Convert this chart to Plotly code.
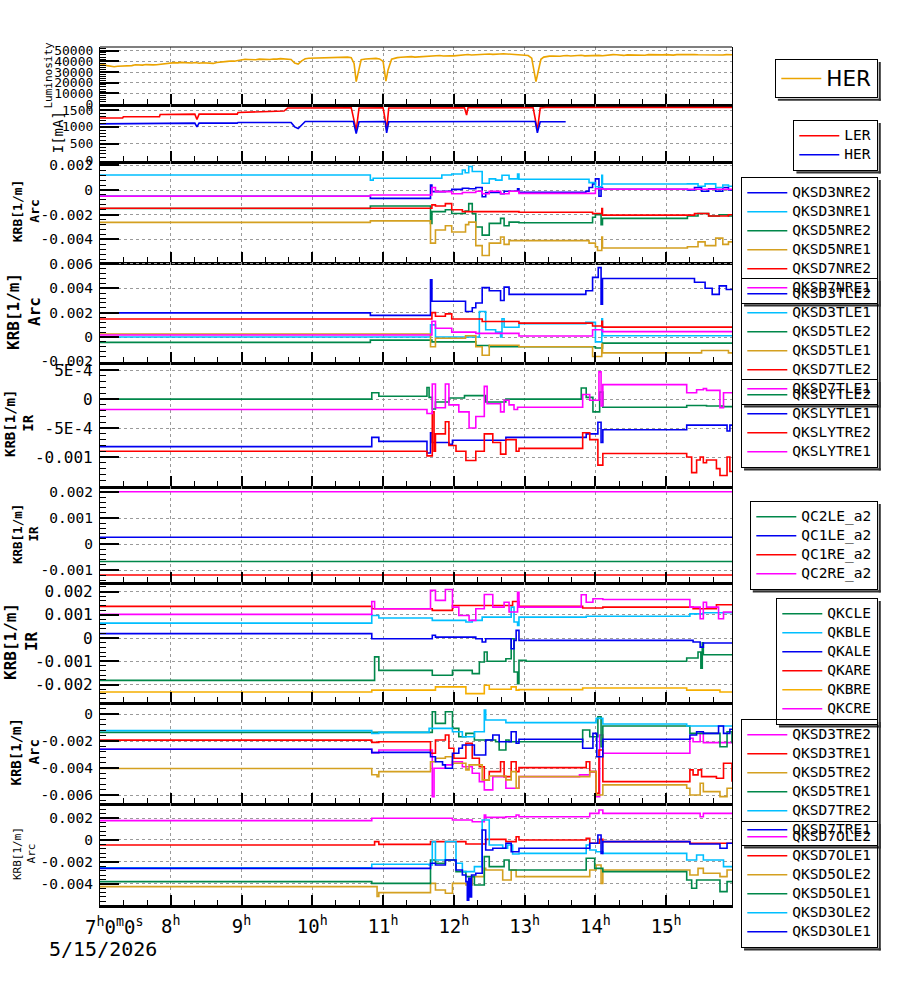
import plotly.graph_objects as go

# ---------------- DATA (time in hours of 5/15/2026, value) ----------------
HOUR_TICKS = [7, 8, 9, 10, 11, 12, 13, 14, 15]
HOUR_LABELS = ["", "8<sup>h</sup>", "9<sup>h</sup>", "10<sup>h</sup>", "11<sup>h</sup>",
               "12<sup>h</sup>", "13<sup>h</sup>", "14<sup>h</sup>", "15<sup>h</sup>"]
FIRST_LABEL = "7<sup>h</sup>0<sup>m</sup>0<sup>s</sup>"
DATE_LABEL = "5/15/2026"

LUM_HER = [(7.0, 36500), (7.05, 36900), (7.1, 36000), (7.15, 35600), (7.2, 35000), (7.25, 35400),
           (7.3, 35500), (7.35, 36100), (7.4, 36200), (7.45, 36000), (7.5, 36800), (7.55, 36400),
           (7.6, 36500), (7.65, 37000), (7.7, 37200), (7.75, 36700), (7.8, 36800), (7.85, 37300),
           (7.9, 37500), (7.95, 38200), (8.0, 39000), (8.05, 38800), (8.1, 38600), (8.15, 39100),
           (8.2, 38800), (8.25, 38400), (8.3, 38500), (8.35, 38900), (8.4, 38300), (8.45, 38700),
           (8.5, 38400), (8.55, 38000), (8.6, 38100), (8.65, 38900), (8.7, 39500), (8.75, 39900),
           (8.8, 40000), (8.85, 40400), (8.9, 40200), (8.95, 40800), (9.0, 41600), (9.05, 42000),
           (9.1, 41800), (9.15, 41300), (9.2, 41500), (9.25, 42100), (9.3, 41900), (9.35, 41500),
           (9.4, 41700), (9.45, 42300), (9.5, 42100), (9.55, 42600), (9.6, 42400), (9.65, 42000),
           (9.7, 41800), (9.75, 38500), (9.8, 37500), (9.85, 40500), (9.9, 42500), (9.95, 42900),
           (10.0, 43000), (10.05, 43300), (10.1, 43500), (10.15, 43000), (10.2, 43200), (10.25, 43700),
           (10.3, 43800), (10.35, 43300), (10.4, 43600), (10.45, 44100), (10.5, 44000), (10.55, 43500),
           (10.59, 38000), (10.62, 21000), (10.65, 30000), (10.69, 41500), (10.75, 42200), (10.8, 42500),
           (10.85, 42100), (10.9, 42800), (10.95, 42300), (11.0, 40000), (11.04, 21500), (11.07, 32000),
           (11.12, 42000), (11.16, 43100), (11.2, 43500), (11.25, 43900), (11.3, 44000), (11.35, 44600),
           (11.4, 44500), (11.45, 44000), (11.5, 44200), (11.55, 44700), (11.6, 44800), (11.65, 45300),
           (11.7, 45000), (11.75, 45400), (11.8, 45500), (11.85, 45000), (11.9, 44800), (11.95, 45300),
           (12.0, 45200), (12.05, 45700), (12.1, 46000), (12.15, 46400), (12.2, 46500), (12.25, 46000),
           (12.3, 46200), (12.35, 46700), (12.4, 46800), (12.45, 47300), (12.5, 47000), (12.55, 46600),
           (12.6, 46500), (12.65, 47000), (12.7, 47200), (12.75, 46900), (12.8, 46800), (12.85, 46500),
           (12.9, 46300), (12.95, 46000), (13.0, 45800), (13.05, 45500), (13.1, 43000), (13.16, 21000),
           (13.19, 30000), (13.23, 42000), (13.27, 44000), (13.3, 44500), (13.35, 44900), (13.4, 45000),
           (13.45, 44600), (13.5, 44800), (13.55, 45300), (13.6, 45500), (13.65, 45000), (13.7, 45200),
           (13.75, 45600), (13.8, 45800), (13.85, 45200), (13.9, 45400), (13.95, 45900), (14.0, 46000),
           (14.05, 45600), (14.1, 45300), (14.15, 45700), (14.2, 45800), (14.25, 46300), (14.3, 46200),
           (14.35, 45800), (14.4, 45600), (14.45, 46100), (14.5, 46000), (14.55, 46500), (14.6, 46400),
           (14.65, 46000), (14.7, 45800), (14.75, 46300), (14.8, 46100), (14.85, 45800), (14.9, 45700),
           (14.95, 46100), (15.0, 46300), (15.05, 46000), (15.1, 45900), (15.15, 46300), (15.2, 46400),
           (15.25, 46000), (15.3, 46000), (15.35, 46400), (15.4, 46500), (15.45, 46200), (15.5, 46100),
           (15.55, 45900), (15.6, 45800), (15.65, 46200), (15.7, 46300), (15.75, 45900), (15.8, 46000),
           (15.85, 46300), (15.93, 46200)]

CUR_LER = [(7.0, 1265), (7.32, 1265), (7.33, 1300), (7.84, 1300), (7.85, 1370), (8.34, 1380), (8.37, 1220),
           (8.40, 1380), (8.94, 1380), (8.95, 1430), (9.6, 1470), (9.65, 1560), (10.55, 1570), (10.58, 1300),
           (10.62, 900), (10.66, 1560), (11.0, 1570), (11.03, 1200), (11.05, 900), (11.08, 1560), (12.15, 1570),
           (12.18, 1350), (12.2, 1570), (13.12, 1570), (13.15, 1200), (13.18, 900), (13.22, 1560),
           (13.3, 1575), (15.93, 1575)]
CUR_HER = [(7.0, 1090), (7.32, 1090), (7.33, 1110), (8.34, 1110), (8.37, 1000), (8.40, 1110), (8.94, 1110),
           (8.95, 1130), (9.70, 1130), (9.75, 1000), (9.80, 950), (9.85, 1050), (9.9, 1160), (10.58, 1160),
           (10.62, 800), (10.66, 1150), (11.03, 1160), (11.05, 820), (11.08, 1150), (13.15, 1160),
           (13.18, 820), (13.22, 1150), (13.58, 1150)]

# Arc NRE
QKSD3NRE2 = [(7.0, -0.0005), (10.82, -0.00068), (11.67, 0.0004), (11.69, -0.00013), (11.88, -0.0001),
             (11.97, 0.00005), (12.12, 0.00014), (12.21, 0.0001), (12.31, 0.0002), (12.40, -0.00054),
             (12.45, -0.0002), (12.66, -0.0003), (12.71, -0.0001), (12.90, 0.0001), (12.92, -0.00019),
             (13.865, -0.0001), (13.91, 0.0002), (13.96, 0.0005), (14.0, 0.0009), (14.05, -0.0005),
             (14.08, 0.0002), (14.10, 0.00006), (15.30, 0.0), (15.40, 0.0002), (15.50, -0.0001),
             (15.60, 0.0001), (15.70, -0.0001), (15.80, 0.0002), (15.88, 0.0), (15.93, 0.0)]
QKSD3NRE1 = [(7.0, 0.00121), (10.82, 0.0008), (10.86, 0.00095), (11.83, 0.00121), (11.97, 0.0013),
             (12.12, 0.00162), (12.16, 0.0014), (12.21, 0.0019), (12.26, 0.0015), (12.40, 0.00055),
             (12.50, 0.0009), (12.59, 0.0008), (12.68, 0.0012), (12.78, 0.0009), (12.90, 0.0013),
             (12.92, 0.00087), (13.91, 0.0006), (14.0, 0.00027), (14.09, 0.0012), (14.10, 0.00049),
             (15.30, 0.0005), (15.45, 0.0003), (15.55, 0.0005), (15.70, 0.0002), (15.80, 0.0004),
             (15.88, 0.0003), (15.93, 0.0003)]
QKSD5NRE2 = [(7.0, -0.0015), (10.82, -0.0013), (11.67, -0.0027), (11.69, -0.00175), (11.88, -0.0016),
             (11.97, -0.0019), (12.16, -0.0017), (12.21, -0.0011), (12.26, -0.0019), (12.31, -0.003),
             (12.40, -0.00365), (12.50, -0.0027), (12.66, -0.0023), (12.71, -0.0029), (12.78, -0.0026),
             (12.92, -0.00265), (13.96, -0.0022), (14.0, -0.002), (14.08, -0.0028), (14.10, -0.0023),
             (15.30, -0.0021), (15.45, -0.0019), (15.60, -0.0021), (15.75, -0.002), (15.88, -0.0021),
             (15.93, -0.0021)]
QKSD5NRE1 = [(7.0, -0.00262), (10.82, -0.0025), (11.67, -0.0043), (11.74, -0.00324), (11.88, -0.0029),
             (11.97, -0.0034), (12.165, -0.0028), (12.21, -0.0026), (12.31, -0.0045), (12.40, -0.0053),
             (12.50, -0.0043), (12.66, -0.0038), (12.71, -0.0044), (12.78, -0.0041), (13.91, -0.0043),
             (14.0, -0.0046), (14.03, -0.0049), (14.09, -0.0038), (14.10, -0.0047), (15.30, -0.0046),
             (15.45, -0.0042), (15.55, -0.0045), (15.70, -0.0039), (15.80, -0.0044), (15.88, -0.0042),
             (15.93, -0.0042)]
QKSD7NRE2 = [(7.0, -0.00148), (11.69, -0.0012), (11.74, -0.0013), (11.88, -0.0011), (11.97, -0.0016),
             (12.12, -0.00175), (12.92, -0.0018), (13.96, -0.0019), (14.09, -0.0015), (14.10, -0.00203),
             (15.40, -0.0019), (15.60, -0.0021), (15.88, -0.002), (15.93, -0.002)]
QKSD7NRE1 = [(7.0, -0.00051), (10.82, -0.0004), (11.69, 0.0002), (11.74, -0.00013), (11.97, -0.0003),
             (12.12, -0.0002), (12.31, -0.0001), (12.40, -0.0003), (12.50, -0.0001), (12.66, -0.0003),
             (12.78, -0.0001), (12.92, -0.00027), (14.0, 0.0001), (14.10, 0.00006), (15.93, 0.00006)]

# Arc TLE
QKSD3TLE2 = [(7.0, 0.00198), (10.82, 0.00178), (11.67, 0.0047), (11.69, 0.00294), (12.165, 0.0021),
             (12.26, 0.0024), (12.31, 0.0028), (12.40, 0.00406), (12.50, 0.0038), (12.66, 0.003),
             (12.71, 0.0041), (12.78, 0.0035), (13.865, 0.0038), (13.96, 0.0049), (14.04, 0.0057),
             (14.08, 0.0027), (14.10, 0.0048), (15.40, 0.0045), (15.55, 0.004), (15.65, 0.0035),
             (15.75, 0.0042), (15.85, 0.0039), (15.93, 0.0039)]
QKSD3TLE1 = [(7.0, 0.0), (11.67, 0.001), (11.74, 0.0), (12.36, 0.0021), (12.45, 0.0006), (12.59, 0.0004),
             (12.66, 0.0), (12.68, 0.0015), (12.71, 0.0008), (12.92, 0.0011), (13.865, 0.0012),
             (14.0, -0.0004), (14.09, 0.0015), (14.10, 0.0001), (15.93, 0.0001)]
QKSD5TLE2 = [(7.0, -0.00044), (10.82, -0.00025), (11.69, -0.0004), (12.31, -0.0007), (12.50, -0.0008),
             (14.0, -0.0009), (14.10, -0.0005), (15.93, -0.0005)]
QKSD5TLE1 = [(7.0, 0.00025), (11.67, -0.0008), (11.74, -0.0001), (12.165, 0.0001), (12.31, -0.0008),
             (12.40, -0.0015), (12.50, -0.00067), (12.92, -0.0008), (13.96, -0.0016), (14.09, -0.0006),
             (14.10, -0.0013), (15.5, -0.0011), (15.88, -0.0013), (15.93, -0.0013)]
QKSD7TLE2 = [(7.0, 0.00148), (11.69, 0.002), (11.74, 0.0017), (11.88, 0.0019), (11.97, 0.00148),
             (12.40, 0.00128), (12.92, 0.00114), (13.96, 0.0009), (14.09, 0.0013), (14.10, 0.00081),
             (15.93, 0.00081)]
QKSD7TLE1 = [(7.0, 0.00017), (11.69, 0.0013), (11.74, 0.00072), (11.97, 0.0004), (12.31, 0.0003),
             (12.92, 0.00008), (13.96, 0.0006), (14.10, 0.00044), (15.93, 0.00044)]

# IR QKSLY
QKSLYTLE2 = [(7.0, 0.0), (10.84, 0.00011), (10.94, 0.00005), (11.62, 0.0002), (11.65, 0.00003),
             (11.695, -0.00017), (11.74, -0.00005), (11.93, 0.00002), (12.15, 0.00006), (12.45, -0.00005),
             (12.735, 0.0), (13.80, 0.00019), (13.87, 0.00003), (13.965, -0.00022), (14.06, 0.00012),
             (14.105, -0.00014), (15.29, -0.00011), (15.57, -0.00012), (15.81, -0.00013), (15.93, -0.00013)]
QKSLYTLE1 = [(7.0, -0.00082), (10.84, -0.00066), (10.94, -0.00073), (11.62, -0.00093), (11.67, -0.00058),
             (11.695, -0.00075), (11.93, -0.00078), (11.98, -0.00071), (12.735, -0.00066), (13.87, -0.0006),
             (14.035, -0.0004), (14.08, -0.00075), (14.105, -0.00053), (15.29, -0.00045), (15.86, -0.00055),
             (15.90, -0.00045), (15.93, -0.00045)]
QKSLYTRE2 = [(7.0, -0.0009), (11.62, -0.00098), (11.695, -0.00022), (11.72, -0.0009), (11.74, -0.0006),
             (11.88, -0.00039), (11.93, -0.0008), (12.03, -0.0009), (12.17, -0.00106), (12.31, -0.0009),
             (12.43, -0.0006), (12.55, -0.00075), (12.66, -0.00095), (12.735, -0.0007), (12.88, -0.0009),
             (12.92, -0.00085), (13.82, -0.00058), (13.92, -0.0007), (14.035, -0.00114), (14.105, -0.00094),
             (15.29, -0.001), (15.36, -0.00127), (15.43, -0.00105), (15.48, -0.001), (15.525, -0.0011),
             (15.57, -0.00105), (15.71, -0.0012), (15.76, -0.00132), (15.86, -0.001), (15.90, -0.00125),
             (15.93, -0.00125)]
QKSLYTRE1 = [(7.0, -0.00018), (11.62, -0.00025), (11.695, 0.00026), (11.74, -0.00015), (11.88, 0.00026),
             (11.93, -0.0001), (12.07, -0.00022), (12.215, -0.0005), (12.31, -0.0003), (12.43, 0.00022),
             (12.47, -0.00008), (12.66, -0.00022), (12.71, -0.00002), (12.78, -0.0001), (12.85, -0.00018),
             (12.90, -0.00014), (13.82, 0.00008), (13.92, -0.00002), (14.05, 0.00047), (14.08, -0.00012),
             (14.105, 0.00025), (15.29, 0.00011), (15.43, 0.00016), (15.525, 0.00018), (15.57, 0.00015),
             (15.76, -0.00015), (15.81, 0.00011), (15.93, 0.00011)]

# IR QC (flat)
QC2LE_A2 = [(7.0, -0.00067), (15.93, -0.00067)]
QC1LE_A2 = [(7.0, 0.00026), (15.93, 0.00026)]
QC1RE_A2 = [(7.0, -0.00119), (15.93, -0.00119)]
QC2RE_A2 = [(7.0, 0.00201), (15.93, 0.00201)]

# IR QK
QKCLE = [(7.0, -0.00182), (10.88, -0.00081), (10.94, -0.00139), (11.695, -0.0016), (11.98, -0.00139),
         (12.26, -0.00153), (12.36, -0.00103), (12.43, -0.0006), (12.47, -0.001), (12.735, -0.00089),
         (12.81, -0.00003), (12.85, -0.00146), (12.90, -0.00196), (12.92, -0.00096), (13.02, -0.001),
         (15.29, -0.00086), (15.45, -0.0006), (15.49, -0.0013), (15.51, -0.0002), (15.525, -0.00072),
         (15.93, -0.00072)]
QKBLE = [(7.0, 0.00064), (10.84, 0.00097), (10.94, 0.00086), (11.695, 0.00076), (12.17, 0.00069),
         (12.26, 0.00076), (12.40, 0.0009), (12.81, 0.00133), (12.85, 0.00069), (12.90, 0.00054),
         (12.92, 0.0009), (13.87, 0.00094), (15.335, 0.00104), (15.525, 0.00109), (15.93, 0.00109)]
QKALE = [(7.0, 0.00019), (10.84, -0.00003), (11.695, 0.00012), (11.74, 0.00004), (12.31, -0.00003),
         (12.40, -0.00017), (12.45, -0.00003), (12.81, -0.00046), (12.85, -0.0001), (12.88, 0.00033),
         (12.92, -0.0001), (15.38, -0.00017), (15.48, -0.00039), (15.525, -0.00021), (15.93, -0.00021)]
QKARE = [(7.0, 0.00136), (10.84, 0.00126), (11.695, 0.00119), (11.98, 0.0014), (12.83, 0.00157),
         (12.92, 0.00136), (13.82, 0.00129), (14.105, 0.00133), (15.38, 0.00126), (15.71, 0.00143),
         (15.93, 0.00143)]
QKBRE = [(7.0, -0.00232), (10.84, -0.00224), (11.74, -0.0021), (12.17, -0.00239), (12.43, -0.00203),
         (12.50, -0.0022), (12.81, -0.0021), (12.88, -0.00224), (12.92, -0.00222), (13.82, -0.00215),
         (15.29, -0.00224), (15.76, -0.00232), (15.93, -0.00232)]
QKCRE = [(7.0, 0.00102), (10.84, 0.00157), (10.88, 0.00126), (11.67, 0.00205), (11.74, 0.00162),
         (11.88, 0.00209), (11.98, 0.00133), (12.07, 0.00097), (12.215, 0.00076), (12.31, 0.00126),
         (12.43, 0.00187), (12.55, 0.00133), (12.71, 0.00154), (12.78, 0.00112), (12.90, 0.00197),
         (12.92, 0.00133), (13.80, 0.00186), (13.87, 0.00154), (13.965, 0.00169), (14.105, 0.00166),
         (15.335, 0.00133), (15.48, 0.00083), (15.525, 0.00154), (15.57, 0.00133), (15.74, 0.00083),
         (15.81, 0.00112), (15.93, 0.00112)]

# Arc TRE
QKSD3TRE2 = [(7.0, -0.00261), (10.84, -0.00286), (10.94, -0.00266), (11.695, -0.00612), (11.72, -0.00402),
             (11.88, -0.00377), (11.98, -0.00353), (12.12, -0.0039), (12.26, -0.00439), (12.36, -0.00501),
             (12.43, -0.00562), (12.55, -0.00464), (12.735, -0.0055), (12.92, -0.00464), (13.775, -0.00451),
             (13.92, -0.00427), (14.01, -0.00612), (14.06, -0.00155), (14.105, -0.00291), (15.335, -0.0018),
             (15.38, -0.00205), (15.48, -0.00143), (15.525, -0.00212), (15.93, -0.00217)]
QKSD3TRE1 = [(7.0, -0.00193), (10.84, -0.0021), (10.94, -0.00205), (11.67, -0.0029), (11.74, -0.00192),
             (11.88, -0.00155), (11.93, -0.00254), (12.0, -0.00328), (12.17, -0.00217), (12.26, -0.00328),
             (12.36, -0.0039), (12.43, -0.00488), (12.50, -0.00427), (12.66, -0.00353), (12.71, -0.00464),
             (12.81, -0.00353), (12.88, -0.00427), (12.92, -0.00397), (13.87, -0.00353), (13.92, -0.00427),
             (14.01, -0.00587), (14.05, -0.00266), (14.105, -0.00501), (15.335, -0.00414), (15.38, -0.00451),
             (15.45, -0.00414), (15.50, -0.00464), (15.71, -0.00476), (15.81, -0.00365), (15.93, -0.00501)]
QKSD5TRE2 = [(7.0, -0.00403), (10.84, -0.0045), (10.915, -0.00464), (10.94, -0.00427), (11.67, -0.00353),
             (11.74, -0.00328), (11.88, -0.00316), (11.98, -0.00365), (12.17, -0.00414), (12.215, -0.00377),
             (12.40, -0.00488), (12.50, -0.00459), (12.735, -0.00488), (12.81, -0.00427), (12.88, -0.0055),
             (12.92, -0.00464), (13.92, -0.00427), (14.01, -0.006), (14.105, -0.00525), (15.29, -0.0055),
             (15.335, -0.006), (15.48, -0.00513), (15.525, -0.00575), (15.76, -0.00612), (15.86, -0.0055),
             (15.93, -0.0055)]
QKSD5TRE1 = [(7.0, -0.00136), (11.695, 0.00017), (11.74, -0.00069), (11.88, 0.00017), (11.98, -0.00106),
             (12.07, -0.00168), (12.17, -0.00143), (12.29, -0.00192), (12.59, -0.00205), (12.64, -0.00266),
             (12.735, -0.00192), (12.78, -0.00205), (13.82, -0.00118), (13.92, -0.00168), (14.035, -0.0002),
             (14.08, -0.00242), (14.105, -0.00089), (15.335, -0.00143), (15.76, -0.00242), (15.86, -0.00131),
             (15.93, -0.00217)]
QKSD7TRE2 = [(7.0, -0.00123), (10.84, -0.00143), (10.94, -0.00136), (11.65, -0.00106), (11.98, -0.00131),
             (12.12, -0.00168), (12.29, -0.00131), (12.43, 0.0003), (12.45, -0.00044), (12.735, -0.00064),
             (14.01, -0.00032), (14.105, -0.00074), (15.29, -0.00089), (15.93, -0.00089)]
QKSD7TRE1 = [(7.0, -0.00261), (10.84, -0.00286), (10.94, -0.00284), (11.67, -0.00316), (11.74, -0.00353),
             (11.84, -0.00377), (11.88, -0.00402), (11.98, -0.00291), (12.07, -0.00254), (12.12, -0.00229),
             (12.29, -0.00303), (12.45, -0.00192), (12.55, -0.00155), (12.64, -0.00205), (12.81, -0.00131),
             (12.88, -0.00217), (12.92, -0.00187), (13.82, -0.00254), (13.965, -0.00143), (14.02, -0.00316),
             (14.105, -0.00187), (15.335, -0.00155), (15.43, -0.00131), (15.525, -0.00143), (15.74, -0.00089),
             (15.81, -0.00143), (15.90, -0.00113), (15.93, -0.00113)]

# Arc OLE
QKSD7OLE2 = [(7.0, 0.00177), (10.84, 0.00198), (11.98, 0.00183), (12.26, 0.00167), (12.43, 0.00228),
             (12.45, 0.00207), (12.735, 0.00213), (12.88, 0.00228), (12.92, 0.00213), (13.92, 0.00243),
             (14.05, 0.00274), (14.105, 0.00243), (15.48, 0.00213), (15.525, 0.00243), (15.93, 0.00243)]
QKSD7OLE1 = [(7.0, -0.00046), (10.88, -0.00015), (10.94, -0.0004), (11.67, -0.00015), (12.17, -0.00037),
             (12.45, 0.00006), (12.735, -0.00015), (12.88, 0.0003), (12.92, 0.0), (13.87, 0.00015),
             (13.92, -0.0003), (14.06, 0.00006), (14.105, -0.00015), (15.335, -0.0003), (15.93, -0.0003)]
QKSD5OLE2 = [(7.0, -0.00426), (10.915, -0.00517), (10.94, -0.00481), (11.67, -0.00396), (11.74, -0.00457),
             (11.88, -0.00487), (11.98, -0.00396), (12.17, -0.00411), (12.26, -0.00335), (12.43, -0.00259),
             (12.45, -0.00274), (12.69, -0.00365), (12.81, -0.00274), (12.88, -0.00335), (13.92, -0.00274),
             (14.01, -0.00228), (14.08, -0.00396), (14.105, -0.00274), (15.335, -0.0032), (15.45, -0.00259),
             (15.525, -0.00304), (15.76, -0.00335), (15.86, -0.00274), (15.93, -0.00274)]
QKSD5OLE1 = [(7.0, -0.0038), (10.84, -0.00396), (11.67, -0.00183), (11.74, -0.00213), (11.88, -0.00183),
             (12.03, -0.00289), (12.17, -0.00335), (12.29, -0.00411), (12.43, -0.00152), (12.50, -0.00243),
             (12.71, -0.00183), (12.78, -0.00274), (13.87, -0.00167), (13.99, -0.00259), (14.105, -0.00289),
             (15.29, -0.00365), (15.36, -0.00441), (15.43, -0.00365), (15.76, -0.00472), (15.86, -0.0038),
             (15.93, -0.0038)]
QKSD3OLE2 = [(7.0, -0.00253), (10.84, -0.00222), (11.65, -0.00228), (11.695, -0.00015), (11.74, -0.00183),
             (11.88, -0.00015), (12.03, -0.00213), (12.12, -0.00289), (12.29, -0.00243), (12.40, 0.00183),
             (12.50, -0.00046), (12.69, -0.00076), (12.76, -0.00046), (12.83, -0.00128), (12.92, -0.00122),
             (13.87, -0.00046), (13.92, -0.00091), (14.01, -0.00107), (14.105, -0.00122), (15.29, -0.00183),
             (15.43, -0.00137), (15.525, -0.00183), (15.81, -0.00243), (15.93, -0.00243)]
QKSD3OLE1 = [(7.0, -0.00259), (11.67, -0.00213), (11.74, -0.00228), (11.88, -0.00183), (12.03, -0.00274),
             (12.12, -0.0032), (12.17, -0.0038), (12.19, -0.0055), (12.21, -0.0035), (12.23, -0.0052),
             (12.25, -0.0032), (12.31, -0.00304), (12.40, 0.00091), (12.45, -0.00091), (12.55, -0.00076),
             (12.735, -0.0003), (12.81, -0.00107), (12.92, -0.00076), (13.92, -0.0003), (14.035, 0.00046),
             (14.08, -0.00122), (14.105, -0.00015), (15.335, -0.00037), (15.76, -0.00076), (15.86, -0.0003),
             (15.93, -0.0003)]

# ---------------- STYLE ----------------
MONO = "DejaVu Sans Mono"
BLUE, CYAN, GREEN, GOLD, RED, MAG = "#0000F0", "#00BFFF", "#00874A", "#D4A020", "#FF0000", "#FF00FF"
ORANGE = "#EBA400"
KBRE_OR = "#F5AE00"

PANELS = [
    dict(series=[("HER", LUM_HER, ORANGE)], rng=[0, 53500], shape="linear",
         tv=[0, 10000, 20000, 30000, 40000, 50000], tt=["0", "10000", "20000", "30000", "40000", "50000"],
         minor=2000, tfs=13, title="Luminosity", title_fs=11, title_x=48, legfs=18, legtext=21.5,
         legfam="DejaVu Sans", legtop=59, legbg="white"),
    dict(series=[("LER", CUR_LER, RED), ("HER", CUR_HER, BLUE)], rng=[0, 1680], shape="linear",
         tv=[0, 500, 1000, 1500], tt=["0", "500", "1000", "1500"], minor=100, tfs=13,
         title="I[mA]", title_fs=14, title_x=58, legtop=120, legbg="white"),
    dict(series=[("QKSD3NRE2", QKSD3NRE2, BLUE), ("QKSD3NRE1", QKSD3NRE1, CYAN), ("QKSD5NRE2", QKSD5NRE2, GREEN),
                 ("QKSD5NRE1", QKSD5NRE1, GOLD), ("QKSD7NRE2", QKSD7NRE2, RED), ("QKSD7NRE1", QKSD7NRE1, MAG)],
         rng=[-0.00583, 0.00239], tv=[-0.004, -0.002, 0, 0.002], tt=["-0.004", "-0.002", "0", "0.002"],
         minor=0.0004, tfs=14.5, title="<b>KRB[1/m]<br>Arc</b>", title_fs=13, title_x=26, legtop=177),
    dict(series=[("QKSD3TLE2", QKSD3TLE2, BLUE), ("QKSD3TLE1", QKSD3TLE1, CYAN), ("QKSD5TLE2", QKSD5TLE2, GREEN),
                 ("QKSD5TLE1", QKSD5TLE1, GOLD), ("QKSD7TLE2", QKSD7TLE2, RED), ("QKSD7TLE1", QKSD7TLE1, MAG)],
         rng=[-0.00205, 0.00616], tv=[-0.002, 0, 0.002, 0.004, 0.006],
         tt=["-0.002", "0", "0.002", "0.004", "0.006"], minor=0.0004, tfs=14.5,
         title="<b>KRB[1/m]<br>Arc</b>", title_fs=16, title_x=24, legtop=278),
    dict(series=[("QKSLYTLE2", QKSLYTLE2, GREEN), ("QKSLYTLE1", QKSLYTLE1, BLUE),
                 ("QKSLYTRE2", QKSLYTRE2, RED), ("QKSLYTRE1", QKSLYTRE1, MAG)],
         rng=[-0.0015, 0.00064], tv=[-0.001, -0.0005, 0, 0.0005], tt=["-0.001", "-5E-4", "0", "5E-4"],
         minor=0.0001, tfs=16, title="<b>KRB[1/m]<br>IR</b>", title_fs=14, title_x=19, legtop=379),
    dict(series=[("QC2LE_a2", QC2LE_A2, GREEN), ("QC1LE_a2", QC1LE_A2, BLUE),
                 ("QC1RE_a2", QC1RE_A2, RED), ("QC2RE_a2", QC2RE_A2, MAG)],
         rng=[-0.00146, 0.00223], tv=[-0.001, 0, 0.001, 0.002], tt=["-0.001", "0", "0.001", "0.002"],
         minor=0.0002, tfs=14.5, title="<b>KRB[1/m]<br>IR</b>", title_fs=12.5, title_x=25, legtop=501,
         legbg="white"),
    dict(series=[("QKCLE", QKCLE, GREEN), ("QKBLE", QKBLE, CYAN), ("QKALE", QKALE, BLUE),
                 ("QKARE", QKARE, RED), ("QKBRE", QKBRE, KBRE_OR), ("QKCRE", QKCRE, MAG)],
         rng=[-0.00275, 0.00241], tv=[-0.002, -0.001, 0, 0.001, 0.002],
         tt=["-0.002", "-0.001", "0", "0.001", "0.002"], minor=0.0002, tfs=16,
         title="<b>KRB[1/m]<br>IR</b>", title_fs=16, title_x=21, legtop=598, legbg="white"),
    dict(series=[("QKSD3TRE2", QKSD3TRE2, MAG), ("QKSD3TRE1", QKSD3TRE1, RED), ("QKSD5TRE2", QKSD5TRE2, GOLD),
                 ("QKSD5TRE1", QKSD5TRE1, GREEN), ("QKSD7TRE2", QKSD7TRE2, CYAN), ("QKSD7TRE1", QKSD7TRE1, BLUE)],
         rng=[-0.00659, 0.00089], tv=[-0.006, -0.004, -0.002, 0], tt=["-0.006", "-0.004", "-0.002", "0"],
         minor=0.0004, tfs=14.5, title="<b>KRB[1/m]<br>Arc</b>", title_fs=14, title_x=24, legtop=719),
    dict(series=[("QKSD7OLE2", QKSD7OLE2, MAG), ("QKSD7OLE1", QKSD7OLE1, RED), ("QKSD5OLE2", QKSD5OLE2, GOLD),
                 ("QKSD5OLE1", QKSD5OLE1, GREEN), ("QKSD3OLE2", QKSD3OLE2, CYAN), ("QKSD3OLE1", QKSD3OLE1, BLUE)],
         rng=[-0.00594, 0.00338], tv=[-0.004, -0.002, 0, 0.002], tt=["-0.004", "-0.002", "0", "0.002"],
         minor=0.0004, tfs=14.5, title="KRB[1/m]<br>Arc", title_fs=11, title_x=24, legtop=821),
]

W, H = 900, 984
PL, PR, PT, PB = 100, 732, 47, 905
BOUNDS = [47, 104, 160.5, 262, 362, 486, 582, 702, 803, 905]
PH = PB - PT
PW = PR - PL
LEG_TEXT = 14.5
LEG_RIGHT = 878
LEG_BW = 1.3


def px_x(px):
    return (px - PL) / PW


def px_y(py):
    return (PB - py) / PH


fig = go.Figure()
layout = dict(width=W, height=H, margin=dict(l=PL, r=W - PR, t=PT, b=H - PB, pad=0),
              plot_bgcolor="white", paper_bgcolor="white", showlegend=True,
              font=dict(family=MONO, color="black"))
annotations = []
shapes = [dict(type="line", xref="paper", yref="paper", x0=0, x1=1, y0=1, y1=1,
               line=dict(color="black", width=1.2))]
n = len(PANELS)
for i, p in enumerate(PANELS):
    k = "" if i == 0 else str(i + 1)
    xa, ya, lg = "x" + k, "y" + k, "legend" + k
    d0 = (PB - BOUNDS[i + 1]) / PH
    d1 = (PB - BOUNDS[i]) / PH
    tsize = p.get("legtext", LEG_TEXT)
    lfs = p.get("legfs", 12)
    for name, pts, col in p["series"]:
        label = '<span style="font-size:%spx">%s</span>' % (tsize, name)
        fig.add_trace(go.Scatter(x=[t for t, _ in pts], y=[v for _, v in pts], name=label, mode="lines",
                                 line=dict(color=col, width=1.6, shape=p.get("shape", "hv")),
                                 xaxis=xa, yaxis=ya, legend=lg))
    bottom = (i == n - 1)
    layout["xaxis" + k] = dict(
        domain=[0, 1], anchor=ya, range=[7.0, 15.93], tickmode="array", tickvals=HOUR_TICKS,
        ticktext=HOUR_LABELS, showticklabels=bottom, ticks="inside", ticklen=10, tickwidth=1.5,
        tickcolor="black", showline=True, linecolor="black", linewidth=3, mirror=False,
        showgrid=True, gridcolor="#9a9a9a", griddash="dot", gridwidth=1, zeroline=False,
        tickfont=dict(family=MONO, size=19, color="black"), ticklabelstandoff=2,
        minor=dict(dtick=1 / 3, tick0=7, ticks="inside", ticklen=5, tickwidth=1.2, tickcolor="black",
                   showgrid=False),
        **({} if i == 0 else dict(matches="x")))
    layout["yaxis" + k] = dict(
        domain=[d0, d1], anchor=xa, range=p["rng"], tickmode="array", tickvals=p["tv"], ticktext=p["tt"],
        ticks="inside", ticklen=19, tickwidth=1.5, tickcolor="black",
        showline=True, linecolor="black", linewidth=1.2, mirror=True,
        showgrid=True, gridcolor="#9a9a9a", griddash="dot", gridwidth=1, zeroline=False,
        tickfont=dict(family=MONO, size=p["tfs"], color="black"), ticklabelstandoff=3,
        minor=dict(dtick=p["minor"], tick0=0, ticks="inside", ticklen=6, tickwidth=1, tickcolor="black",
                   showgrid=False))
    layout[lg] = dict(x=px_x(LEG_RIGHT), y=px_y(p["legtop"]), xanchor="right", yanchor="top",
                      xref="paper", yref="paper", bordercolor="black", borderwidth=LEG_BW,
                      bgcolor=p.get("legbg", "rgba(0,0,0,0)"), tracegroupgap=0, itemwidth=40,
                      font=dict(family=p.get("legfam", MONO), size=lfs, color="black"))
    # drop shadow of the legend box (estimated box size from plotly's legend metrics)
    item_h = max(lfs * 1.3, 16) + 3
    box_bottom = p["legtop"] + len(p["series"]) * item_h + 10 + 2 * LEG_BW
    if p.get("legfam") == "DejaVu Sans":
        text_w = 2.08 * tsize
    else:
        text_w = 0.602 * tsize * max(len(s[0]) for s in p["series"])
    box_left = LEG_RIGHT - (58.4 + text_w)
    r0, r1 = LEG_RIGHT + 0.7, LEG_RIGHT + 2.8
    shapes.append(dict(type="rect", xref="paper", yref="paper", x0=px_x(r0), x1=px_x(r1),
                       y0=px_y(p["legtop"] + 3), y1=px_y(box_bottom + 2.8), line=dict(width=0),
                       fillcolor="#333333", layer="above"))
    shapes.append(dict(type="rect", xref="paper", yref="paper", x0=px_x(box_left + 3), x1=px_x(r1),
                       y0=px_y(box_bottom + 0.7), y1=px_y(box_bottom + 2.8), line=dict(width=0),
                       fillcolor="#333333", layer="above"))
    annotations.append(dict(text=p["title"], xref="paper", yref="paper", x=0, y=(d0 + d1) / 2,
                            xanchor="center", yanchor="middle", xshift=p["title_x"] - PL, textangle=-90,
                            showarrow=False, font=dict(family=MONO, size=p["title_fs"], color="black")))

annotations.append(dict(text=FIRST_LABEL, xref="x" + str(n), yref="paper", x=HOUR_TICKS[0], y=0,
                        xanchor="left", yanchor="middle", xshift=-17, yshift=-21, showarrow=False,
                        font=dict(family=MONO, size=19, color="black")))
annotations.append(dict(text=DATE_LABEL, xref="x" + str(n), yref="paper", x=HOUR_TICKS[0], y=0,
                        xanchor="left", yanchor="middle", xshift=-53, yshift=-44, showarrow=False,
                        font=dict(family=MONO, size=20, color="black")))
layout["annotations"] = annotations
layout["shapes"] = shapes
fig.update_layout(**layout)
fig.write_html("out.html")
